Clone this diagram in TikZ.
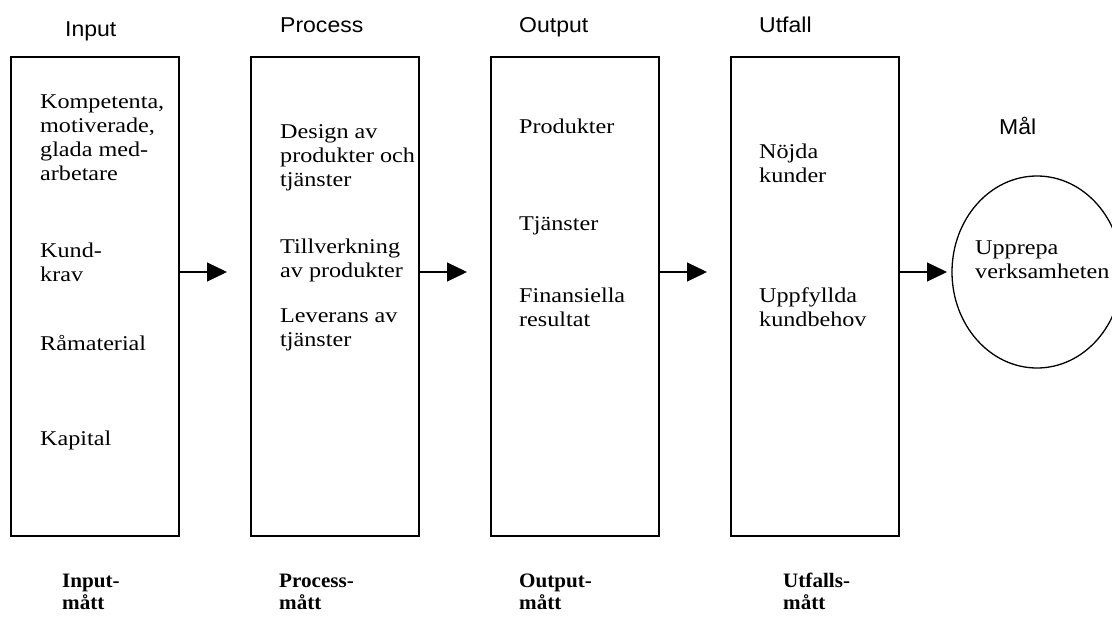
\documentclass[tikz,border=0pt]{standalone}
\usepackage{fontspec}
\setmainfont{Liberation Serif}[FakeStretch=1.15]
\newfontfamily\headfont{Liberation Sans}[FakeStretch=1.07]
\newfontfamily\measfont{Liberation Serif Bold}[FakeStretch=1.03]
\usetikzlibrary{arrows.meta,shapes.geometric}
\newcommand\txtlines[1]{\begin{tabular}[t]{@{}l@{}}#1\end{tabular}}
\begin{document}
\begin{tikzpicture}[x=1pt,y=-1pt,
  stage/.style={draw,line width=1.3pt,minimum width=168pt,minimum height=479pt,inner sep=0pt},
  goal/.style={draw,line width=1.3pt,ellipse,minimum width=170pt,minimum height=192pt,inner sep=0pt},
  item/.style={anchor=base west,inner sep=0pt,font=\fontsize{21}{24}\selectfont},
  head/.style={anchor=base west,inner sep=0pt,font=\headfont\fontsize{21.5}{26}\selectfont},
  measure/.style={anchor=base west,inner sep=0pt,font=\measfont\fontsize{20.5}{22}\selectfont},
  flow/.style={line width=1.3pt,-{Triangle[length=20pt,width=19pt]}}]
\clip (0,0) rectangle (1112,618);
\fill[white] (0,0) rectangle (1112,618);

% column headings
\node[head] (hin)  at (65,37)   {Input};
\node[head] (hpr)  at (280,33)  {Process};
\node[head] (hout) at (519,33)  {Output};
\node[head] (hutf) at (759,33)  {Utfall};
\node[head] (hgoal) at (999,134) {Mål};

% the four stages
\node[stage] (b1) at (95,296.5)  {};
\node[stage] (b2) at (335,296.5) {};
\node[stage] (b3) at (575,296.5) {};
\node[stage] (b4) at (815,296.5) {};
\node[goal]  (g)  at (1037,272)  {};

% stage contents
\node[item] (i1) at (40,109) {\txtlines{Kompetenta,\\motiverade,\\glada med-\\arbetare}};
\node[item] (i2) at (40,257) {\txtlines{Kund-\\krav}};
\node[item] (i3) at (40,350) {Råmaterial};
\node[item] (i4) at (40,445) {Kapital};

\node[item] (p1) at (280,139) {\txtlines{Design av\\produkter och\\tjänster}};
\node[item] (p2) at (280,253) {\txtlines{Tillverkning\\av produkter}};
\node[item] (p3) at (280,322) {\txtlines{Leverans av\\tjänster}};

\node[item] (o1) at (519,133) {Produkter};
\node[item] (o2) at (519,230) {Tjänster};
\node[item] (o3) at (519,302) {\txtlines{Finansiella\\resultat}};

\node[item] (u1) at (759,158) {\txtlines{Nöjda\\kunder}};
\node[item] (u2) at (759,302) {\txtlines{Uppfyllda\\kundbehov}};

\node[item] (gt) at (975,254) {\txtlines{Upprepa\\verksamheten}};

% arrows between stages
\coordinate (t1) at (227,272);
\coordinate (t2) at (467,272);
\coordinate (t3) at (707,272);
\coordinate (t4) at (947,272);
\draw[flow] (b1.east |- t1) -- (t1);
\draw[flow] (b2.east |- t2) -- (t2);
\draw[flow] (b3.east |- t3) -- (t3);
\draw[flow] (b4.east |- t4) -- (t4);

% measures below the stages
\node[measure] (m1) at (62,587)  {\txtlines{Input-\\mått}};
\node[measure] (m2) at (279,587) {\txtlines{Process-\\mått}};
\node[measure] (m3) at (519,587) {\txtlines{Output-\\mått}};
\node[measure] (m4) at (783,587) {\txtlines{Utfalls-\\mått}};
\end{tikzpicture}
\end{document}
